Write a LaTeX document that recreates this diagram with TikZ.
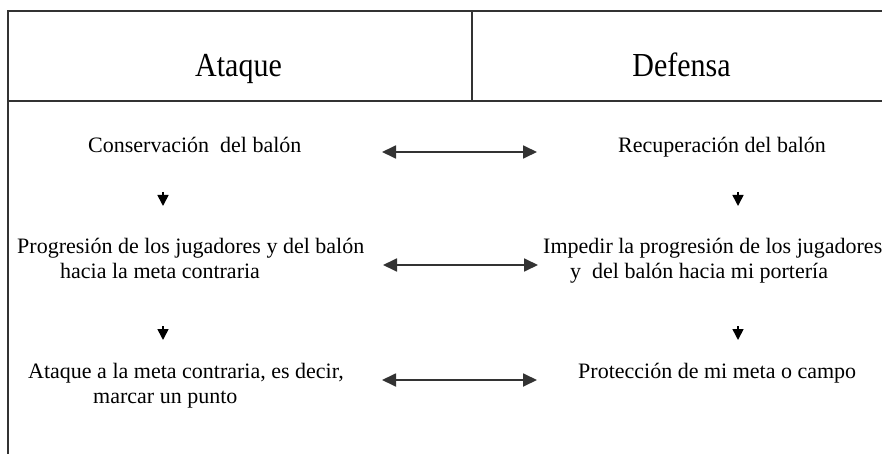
\documentclass[tikz,border=0pt]{standalone}
\usepackage{fontspec}
\setmainfont{Liberation Serif}
\usetikzlibrary{arrows.meta}
\tikzset{
  frame/.style={line width=1.7pt, draw=black!80},
  body/.style={font=\fontsize{22}{25}\selectfont, inner sep=0pt, anchor=base west, text=black},
  head/.style={font=\fontsize{30}{34}\selectfont, inner sep=0pt, anchor=base, text=black, yscale=1.12, transform shape},
  dbl/.style={line width=1.8pt, draw=black!80, {Triangle[length=14pt,width=13pt]}-{Triangle[length=14pt,width=13pt]}},
  down/.style={line width=1.6pt, draw=black, -{Triangle[length=11pt,width=11pt]}}
}
\begin{document}
\begin{tikzpicture}[x=1pt,y=-1pt]
\useasboundingbox (0,0) rectangle (882,454);
% frame
\draw[frame] (8,454) -- (8,11) -- (892,11);
\draw[frame] (8,101) -- (892,101);
\draw[frame] (472,11) -- (472,101);
% headers
\node[head] (hA) at (238.5,77) {Ataque};
\node[head] (hD) at (681.5,77) {Defensa};
% left column
\node[body] (a1) at (88,153) {Conservación~ del balón};
\node[body] (a2) at (17,253) {Progresión de los jugadores y del balón};
\node[body] (a2b) at (60,278) {hacia la meta contraria};
\node[body] (a3) at (28,378) {Ataque a la meta contraria, es decir,};
\node[body] (a3b) at (93,403) {marcar un punto};
% right column
\node[body] (d1) at (618,153) {Recuperación del balón};
\node[body] (d2) at (543,253) {Impedir la progresión de los jugadores};
\node[body] (d2b) at (570,278) {y~ del balón hacia mi portería};
\node[body] (d3) at (578,378) {Protección de mi meta o campo};
% arrow end points
\coordinate (l1) at (382,152); \coordinate (r1) at (537,152);
\coordinate (l2) at (383,265); \coordinate (r2) at (538,265);
\coordinate (l3) at (382,380); \coordinate (r3) at (537,380);
\draw[dbl] (l1) -- (r1);
\draw[dbl] (l2) -- (r2);
\draw[dbl] (l3) -- (r3);
\coordinate (ad1s) at (163,192); \coordinate (ad1e) at (163,206);
\coordinate (ad2s) at (163,326); \coordinate (ad2e) at (163,340);
\coordinate (dd1s) at (738,192); \coordinate (dd1e) at (738,206);
\coordinate (dd2s) at (738,326); \coordinate (dd2e) at (738,340);
\draw[down] (ad1s) -- (ad1e);
\draw[down] (ad2s) -- (ad2e);
\draw[down] (dd1s) -- (dd1e);
\draw[down] (dd2s) -- (dd2e);
\end{tikzpicture}
\end{document}
